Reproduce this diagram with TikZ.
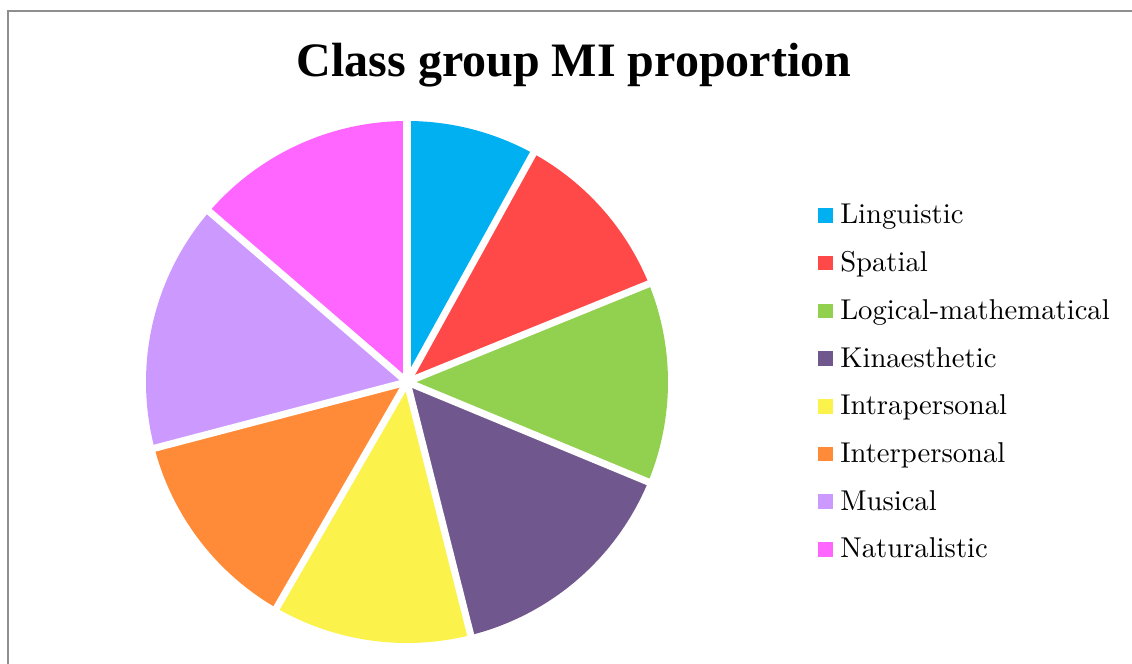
\documentclass[tikz,border=0pt]{standalone}
\usepackage{fontspec}
\newfontfamily\titlefont{Liberation Serif}
\newfontfamily\legfont{lmroman10-regular.otf}
\usepackage{tikz}
\usetikzlibrary{positioning}
\definecolor{MIFrame}{HTML}{8E8E8E}
\definecolor{MILing}{HTML}{00B0F0}
\definecolor{MISpat}{HTML}{FF4848}
\definecolor{MILogi}{HTML}{92D050}
\definecolor{MIKina}{HTML}{70588F}
\definecolor{MIIntra}{HTML}{FCF24C}
\definecolor{MIInter}{HTML}{FF8B38}
\definecolor{MIMusi}{HTML}{CC99FF}
\definecolor{MINatu}{HTML}{FF66FF}

\begin{document}
\begin{tikzpicture}[x=0.75pt,y=0.75pt]
  \tikzstyle{gap}=[white,line width=5.3pt,line cap=round]
  \tikzstyle{legbox}=[minimum size=10.9pt,inner sep=0pt]
  \tikzstyle{legtext}=[anchor=base west,inner sep=0pt,
    font=\legfont\fontsize{21.5}{24}\selectfont]
  \useasboundingbox (0,0) rectangle (1132,664);
  \draw[line width=1.5pt,color=MIFrame] (7.5,0) |- (1132,652.5);
  \node[anchor=base,font=\titlefont\bfseries\fontsize{36}{40}\selectfont]
    (title) at (574,587.3) {Class group MI proportion};
  % pie
  \coordinate (c) at (407,282);
  \foreach \a/\b/\col in {90/61.07/MILing,61.07/22.1/MISpat,22.1/-22.5/MILogi,
      -22.5/-75.87/MIKina,-75.87/-120/MIIntra,-120/-165.3/MIInter,
      -165.3/-220.75/MIMusi,-220.75/-270/MINatu}
    \fill[\col] (c) -- ++(\a:261) arc[start angle=\a,end angle=\b,radius=261] -- cycle;
  \foreach \a in {90,61.07,22.1,-22.5,-75.87,-120,-165.3,-220.75}
    \draw[gap] (c) -- ++(\a:266);
  \fill[white] (c) circle[radius=6];
  % legend
  \foreach \name/\col [count=\i from 0] in {Linguistic/MILing,Spatial/MISpat,
      Logical-mathematical/MILogi,Kinaesthetic/MIKina,Intrapersonal/MIIntra,
      Interpersonal/MIInter,Musical/MIMusi,Naturalistic/MINatu}{
    \node[legbox,fill=\col] (box\i) at (825.5,448.5-47.71*\i) {};
    \node[legtext] (leg\i) at (840,440-47.71*\i) {\name};
  }
\end{tikzpicture}
\end{document}
